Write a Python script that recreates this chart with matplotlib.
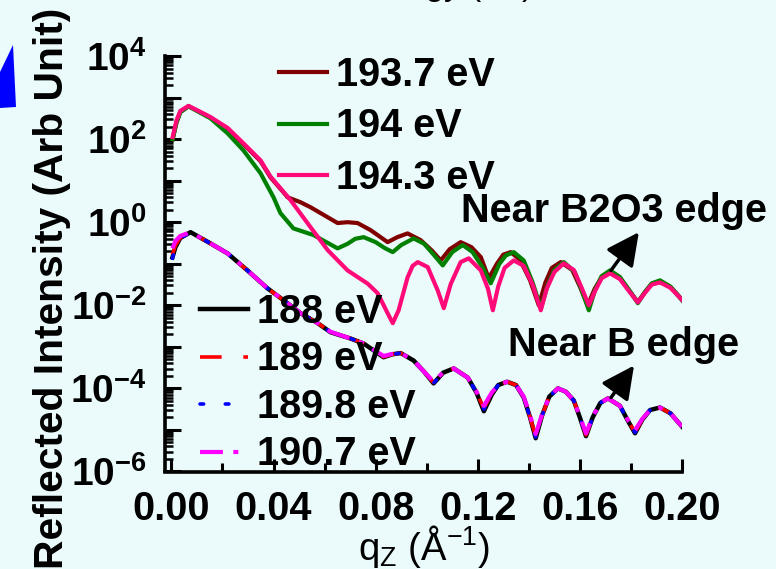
import numpy as np
import matplotlib
matplotlib.use("Agg")
import matplotlib.pyplot as plt
from matplotlib.ticker import LogLocator, FuncFormatter, MultipleLocator, NullFormatter
from matplotlib.patches import Polygon

plt.rcParams['font.family'] = 'Liberation Sans'
plt.rcParams['mathtext.fontset'] = 'custom'
plt.rcParams['mathtext.rm'] = 'Liberation Sans'
plt.rcParams['mathtext.bf'] = 'Liberation Sans:bold'
plt.rcParams['mathtext.it'] = 'Liberation Sans:italic'

# ---- near B2O3 edge (log10 of reflected intensity) ----
q_1937 = [0.0005, 0.002, 0.0035, 0.0067, 0.0153, 0.022, 0.0282, 0.0349, 0.0388, 0.0439,
          0.0455, 0.0506, 0.0545, 0.0612, 0.0651, 0.069, 0.0729, 0.078, 0.0847, 0.0885,
          0.0925, 0.0976, 0.102, 0.1055, 0.109, 0.1133, 0.1175, 0.1212, 0.1243, 0.1275,
          0.130, 0.1329, 0.1365, 0.1405, 0.1439, 0.1465, 0.149, 0.1525, 0.157, 0.160,
          0.1631, 0.1658, 0.1685, 0.1718, 0.1757, 0.1795, 0.1827, 0.1855, 0.1882, 0.1914,
          0.1955, 0.2]
log_1937 = [2.0, 2.4, 2.65, 2.79, 2.52, 2.25, 1.88, 1.47, 1.08, 0.72,
            0.60, 0.48, 0.36, 0.12, -0.02, 0.0, -0.02, -0.19, -0.48, -0.36,
            -0.27, -0.43, -0.68, -0.92, -0.65, -0.48, -0.6, -0.84, -1.35, -1.0,
            -0.78, -0.72, -0.9, -1.4, -2.0, -1.45, -1.1, -0.96, -1.15, -1.55,
            -2.0, -1.6, -1.33, -1.21, -1.35, -1.66, -1.92, -1.68, -1.48, -1.43,
            -1.56, -1.86]

q_194 = [0.0005, 0.002, 0.0035, 0.0067, 0.0153, 0.022, 0.0282, 0.0349, 0.040, 0.0427,
         0.0467, 0.0478, 0.0557, 0.0651, 0.069, 0.072, 0.0753, 0.080, 0.0835, 0.0867,
         0.090, 0.0949, 0.099, 0.103, 0.1063, 0.110, 0.1141, 0.118, 0.122, 0.1251,
         0.1285, 0.131, 0.1341, 0.138, 0.1415, 0.1447, 0.1475, 0.150, 0.1537, 0.158,
         0.1605, 0.1635, 0.166, 0.1685, 0.1718, 0.1757, 0.1795, 0.1827, 0.1855, 0.1882,
         0.1914, 0.1955, 0.2]
log_194 = [2.0, 2.4, 2.65, 2.79, 2.50, 2.14, 1.73, 1.18, 0.60, 0.22,
           -0.07, -0.15, -0.31, -0.63, -0.52, -0.40, -0.36, -0.48, -0.62, -0.72,
           -0.55, -0.39, -0.52, -0.8, -1.04, -0.72, -0.55, -0.72, -1.1, -1.47,
           -1.0, -0.8, -0.72, -0.92, -1.45, -2.07, -1.5, -1.15, -0.96, -1.2,
           -1.6, -2.12, -1.62, -1.30, -1.16, -1.32, -1.65, -1.95, -1.68, -1.47,
           -1.40, -1.55, -1.88]

q_1943 = [0.0005, 0.002, 0.0035, 0.0067, 0.0153, 0.022, 0.0282, 0.0349, 0.0388, 0.0467,
          0.0545, 0.0612, 0.069, 0.0769, 0.0808, 0.0847, 0.0867, 0.089, 0.0925, 0.0945,
          0.0965, 0.1004, 0.1043, 0.1067, 0.1094, 0.1133, 0.1165, 0.1212, 0.124, 0.1259,
          0.128, 0.1305, 0.1341, 0.138, 0.1415, 0.1447, 0.147, 0.150, 0.1537, 0.1576,
          0.1605, 0.1635, 0.166, 0.1685, 0.1718, 0.1757, 0.1795, 0.1827, 0.1855, 0.1882,
          0.1914, 0.1955, 0.2]
log_1943 = [2.05, 2.45, 2.68, 2.80, 2.53, 2.27, 1.90, 1.49, 1.10, 0.53,
            -0.12, -0.67, -1.16, -1.48, -1.71, -2.19, -2.43, -2.12, -1.33, -1.05,
            -0.96, -1.08, -1.64, -2.07, -1.49, -0.96, -0.87, -1.16, -1.6, -2.12,
            -1.55, -1.1, -0.92, -1.05, -1.5, -2.12, -1.6, -1.2, -0.99, -1.15,
            -1.55, -2.0, -1.65, -1.35, -1.23, -1.37, -1.68, -1.93, -1.7, -1.5,
            -1.45, -1.58, -1.87]

# ---- near B edge ----
q_b = [0.0004, 0.0016, 0.0035, 0.0075, 0.0153, 0.022, 0.0298, 0.0376, 0.0455, 0.0506,
       0.0573, 0.0624, 0.0702, 0.0753, 0.0831, 0.0865, 0.0898, 0.0949, 0.099, 0.1027,
       0.1065, 0.1106, 0.1161, 0.1195, 0.1224, 0.1255, 0.128, 0.1315, 0.135, 0.138,
       0.1405, 0.1427, 0.1452, 0.148, 0.1514, 0.1545, 0.1576, 0.160, 0.1624, 0.165,
       0.168, 0.171, 0.1757, 0.179, 0.1816, 0.1845, 0.1875, 0.1914, 0.1955, 0.2]
log_188 = [-0.85, -0.60, -0.38, -0.24, -0.51, -0.75, -1.16, -1.59, -1.95, -2.19,
           -2.43, -2.65, -2.80, -2.92, -3.25, -3.18, -3.15, -3.33, -3.6, -3.88,
           -3.62, -3.52, -3.74, -4.1, -4.55, -4.15, -3.92, -3.84, -3.92, -4.22,
           -4.7, -5.2, -4.65, -4.2, -4.0, -4.08, -4.29, -4.7, -5.15, -4.7,
           -4.35, -4.24, -4.42, -4.8, -5.08, -4.75, -4.52, -4.46, -4.6, -4.92]
log_189 = [-0.78, -0.56, -0.37, -0.24, -0.51, -0.75, -1.16, -1.59, -1.95, -2.19,
           -2.43, -2.64, -2.80, -2.92, -3.24, -3.18, -3.15, -3.33, -3.6, -3.86,
           -3.62, -3.52, -3.74, -4.1, -4.48, -4.12, -3.92, -3.84, -3.92, -4.22,
           -4.7, -5.15, -4.65, -4.2, -4.0, -4.08, -4.29, -4.7, -5.12, -4.7,
           -4.35, -4.24, -4.42, -4.8, -5.05, -4.75, -4.52, -4.46, -4.6, -4.92]
log_1898 = [-0.87, -0.62, -0.39, -0.24, -0.51, -0.75, -1.16, -1.59, -1.95, -2.19,
            -2.43, -2.65, -2.80, -2.92, -3.25, -3.18, -3.15, -3.33, -3.6, -3.87,
            -3.62, -3.52, -3.74, -4.1, -4.5, -4.14, -3.92, -3.84, -3.92, -4.22,
            -4.7, -5.17, -4.65, -4.2, -4.0, -4.08, -4.29, -4.7, -5.13, -4.7,
            -4.35, -4.24, -4.42, -4.8, -5.06, -4.75, -4.52, -4.46, -4.6, -4.92]
log_1907 = [-0.63, -0.45, -0.33, -0.24, -0.51, -0.75, -1.16, -1.59, -1.95, -2.19,
            -2.43, -2.64, -2.80, -2.92, -3.22, -3.17, -3.15, -3.33, -3.6, -3.84,
            -3.61, -3.52, -3.74, -4.08, -4.42, -4.1, -3.92, -3.84, -3.92, -4.2,
            -4.65, -5.1, -4.62, -4.2, -4.0, -4.08, -4.29, -4.68, -5.08, -4.68,
            -4.35, -4.24, -4.42, -4.78, -5.0, -4.73, -4.52, -4.46, -4.6, -4.92]

bg = '#ebfbfc'
fig = plt.figure(figsize=(7.76, 5.69), dpi=100, facecolor=bg)
ax = fig.add_axes([165 / 776, 1 - 471.5 / 569, 517 / 776, 415.5 / 569])
ax.set_facecolor(bg)

upper = []
for q, lg, c, lab in [(q_1937, log_1937, '#800000', '193.7 eV'),
                      (q_194, log_194, '#008000', '194 eV'),
                      (q_1943, log_1943, '#ff0a78', '194.3 eV')]:
    l, = ax.plot(q, 10 ** np.array(lg), color=c, lw=3, label=lab)
    upper.append(l)

lower = []
l, = ax.plot(q_b, 10 ** np.array(log_188), color='k', lw=3.2, label='188 eV')
lower.append(l)
l, = ax.plot(q_b, 10 ** np.array(log_189), color='#ff0000', lw=2.6, ls=(0, (6, 6)), label='189 eV')
lower.append(l)
l, = ax.plot(q_b, 10 ** np.array(log_1898), color='#0000ff', lw=2.6, ls=(0, (1, 6)),
             dash_capstyle='round', label='189.8 eV')
lower.append(l)
l, = ax.plot(q_b, 10 ** np.array(log_1907), color='#ff00ff', lw=3, ls=(0, (5.5, 2.5, 1.2, 2.5)),
             label='190.7 eV')
lower.append(l)

ax.set_yscale('log')
ax.set_ylim(1e-6, 1e4)
ax.set_xlim(-0.0025, 0.2)

for s in ['top', 'right']:
    ax.spines[s].set_visible(False)
for s in ['left', 'bottom']:
    ax.spines[s].set_linewidth(2.6)

ax.xaxis.set_major_locator(MultipleLocator(0.04))
ax.xaxis.set_minor_locator(MultipleLocator(0.02))
ax.xaxis.set_major_formatter(FuncFormatter(lambda v, p: '%.2f' % v))
ax.yaxis.set_major_locator(LogLocator(base=10, numticks=20))
ax.yaxis.set_minor_locator(LogLocator(base=10, subs=np.arange(2, 10), numticks=100))
ax.yaxis.set_minor_formatter(NullFormatter())


def yfmt(v, p):
    e = int(round(np.log10(v)))
    if e % 2:
        return ''
    return r'$\mathbf{10^{%d}}$' % e


ax.yaxis.set_major_formatter(FuncFormatter(yfmt))
ax.tick_params(axis='x', which='major', direction='in', length=9.5, width=2.2, pad=13,
               labelsize=28.5)
ax.tick_params(axis='x', which='minor', direction='in', length=6.5, width=2.2)
ax.tick_params(axis='y', which='major', direction='in', length=11.5, width=2.2, pad=13,
               labelsize=28)
ax.tick_params(axis='y', which='minor', direction='in', length=6, width=1.8)
for t in ax.get_xticklabels():
    t.set_fontweight('bold')

leg1 = ax.legend(handles=upper, loc='upper left', bbox_to_anchor=(279 / 776, 1 - 56 / 569),
                 bbox_transform=fig.transFigure, frameon=False, borderpad=0, borderaxespad=0,
                 handlelength=1.21, handletextpad=0.23, labelspacing=0.34,
                 prop={'size': 28.5, 'weight': 'bold'})
ax.add_artist(leg1)
ax.legend(handles=lower, loc='upper left', bbox_to_anchor=(200 / 776, 1 - 293 / 569),
          bbox_transform=fig.transFigure, frameon=False, borderpad=0, borderaxespad=0,
          handlelength=1.21, handletextpad=0.23, labelspacing=0.24,
          prop={'size': 28.5, 'weight': 'bold'})

ax.text(0.1133, 1.0, 'Near B2O3 edge', fontsize=28.5, fontweight='bold', ha='left',
        va='baseline')
ax.text(0.1318, 10 ** -3.229, 'Near B edge', fontsize=28.5, fontweight='bold', ha='left',
        va='baseline')
arrow = dict(arrowstyle='-|>,head_length=0.5,head_width=0.25', lw=2.5, color='k',
             mutation_scale=40, shrinkA=0, shrinkB=0)
ax.annotate('', xy=(0.1831, 10 ** -0.24), xytext=(0.1722, 10 ** -1.16), arrowprops=arrow)
ax.annotate('', xy=(0.1812, 10 ** -3.45), xytext=(0.1722, 10 ** -4.22), arrowprops=arrow)

fig.text(52 / 776, 1 - 288 / 569, 'Reflected Intensity (Arb Unit)', rotation=90,
         fontsize=29.3, fontweight='bold', ha='center', va='center')
fig.text(424 / 776, 1 - 560 / 569, r'q$_{\mathregular{Z}}$ (Å$^{\mathregular{-1}}$)',
         fontsize=27.5, ha='center', va='baseline')
fig.text(533 / 776, 1 + 5 / 569, 'Energy (eV)', fontsize=24, ha='right', va='baseline')

pts = [(13, 45), (16, 107), (0, 108), (0, 72)]
fig.patches.append(Polygon([(x / 776, 1 - y / 569) for x, y in pts], closed=True,
                           transform=fig.transFigure, facecolor='#0000ff', edgecolor='none'))

fig.savefig('out.png', dpi=100, facecolor=bg)
